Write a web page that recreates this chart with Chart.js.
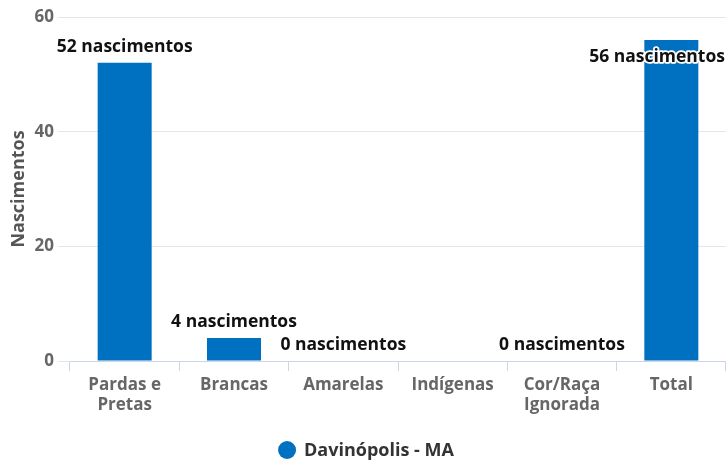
<!DOCTYPE html>
<html>
<head>
<meta charset="utf-8">
<script src="https://cdn.jsdelivr.net/npm/chart.js@4"></script>
<style>
html,body{margin:0;padding:0;background:#fff;}
#wrap{width:726px;height:461px;position:relative;}
</style>
</head>
<body>
<div id="wrap"><canvas id="c"></canvas></div>
<script>
const categories = [["Pardas e","Pretas"],"Brancas","Amarelas","Indígenas",["Cor/Raça","Ignorada"],"Total"];
const values = [52, 4, 0, 0, 0, 56];
const seriesName = "Davinópolis - MA";
const yTicks = [0, 20, 40, 60];
const labelShown = [true, true, true, false, true, true];
const labelInside = [false, false, false, false, false, true];

const FONT = "'Open Sans', sans-serif";
const BLUE = "#0070c0";

const dataLabels = {
  id: 'dataLabels',
  afterDatasetsDraw(chart) {
    const ctx = chart.ctx;
    const meta = chart.getDatasetMeta(0);
    ctx.save();
    ctx.font = "bold 17.5px " + FONT;
    ctx.textAlign = 'center';
    ctx.textBaseline = 'middle';
    meta.data.forEach((bar, i) => {
      if (!labelShown[i]) return;
      const txt = values[i] + " nascimentos";
      const tw = ctx.measureText(txt).width;
      let x = bar.x;
      x = Math.min(x, chart.width - tw / 2 - 1);
      x = Math.max(x, tw / 2 + 1);
      const y = labelInside[i] ? bar.y + 17 : bar.y - 16;
      const outline = (i === 0 || i === values.length - 1);
      if (outline) {
        ctx.lineJoin = 'round';
        ctx.lineWidth = 3.5;
        ctx.strokeStyle = '#ffffff';
        ctx.strokeText(txt, x, y);
      }
      ctx.fillStyle = '#111111';
      ctx.fillText(txt, x, y);
    });
    ctx.restore();
  }
};

const customLegend = {
  id: 'customLegend',
  afterDraw(chart) {
    const ctx = chart.ctx;
    ctx.save();
    ctx.font = "bold 18px " + FONT;
    const label = chart.data.datasets[0].label;
    const tw = ctx.measureText(label).width;
    const r = 9;
    const gap = 8;
    const total = r * 2 + gap + tw;
    const cx = chart.width / 2 + 3;
    const x0 = cx - total / 2;
    const y = 450;
    ctx.fillStyle = chart.data.datasets[0].backgroundColor;
    ctx.beginPath();
    ctx.arc(x0 + r, y, r, 0, Math.PI * 2);
    ctx.fill();
    ctx.fillStyle = '#333333';
    ctx.textAlign = 'left';
    ctx.textBaseline = 'middle';
    ctx.fillText(label, x0 + 2 * r + gap, y + 1);
    ctx.restore();
  }
};

new Chart(document.getElementById('c'), {
  type: 'bar',
  data: {
    labels: categories,
    datasets: [{
      label: seriesName,
      data: values,
      backgroundColor: BLUE,
      borderWidth: 0,
      inflateAmount: 0,
      barThickness: 54
    }]
  },
  options: {
    responsive: true,
    maintainAspectRatio: false,
    animation: false,
    layout: { padding: { top: 17, right: 0, bottom: 0, left: 0 } },
    plugins: {
      legend: { display: false },
      tooltip: { enabled: false }
    },
    scales: {
      x: {
        grid: { display: true, drawOnChartArea: false, drawTicks: true, tickLength: 10, color: '#ccd6eb', offset: true },
        border: { display: true, color: '#ccd6eb', width: 1 },
        ticks: {
          color: '#666666',
          font: { family: FONT, size: 17, weight: 'bold', lineHeight: 1.2 },
          padding: 4,
          maxRotation: 0,
          autoSkip: false
        },
        afterFit(scale) { scale.height = 100; }
      },
      y: {
        min: 0,
        max: 60,
        afterBuildTicks(scale) { scale.ticks = yTicks.map(v => ({ value: v })); },
        grid: { color: '#e6e6e6', tickLength: 12, drawTicks: true },
        border: { display: false },
        ticks: {
          color: '#666666',
          font: { family: FONT, size: 17, weight: 'bold' },
          padding: 4
        },
        title: {
          display: true,
          text: 'Nascimentos',
          color: '#555555',
          font: { family: FONT, size: 18, weight: 'bold' },
          padding: { top: 8, bottom: 0 }
        },
        afterFit(scale) { scale.width = 70; }
      }
    }
  },
  plugins: [dataLabels, customLegend]
});
</script>
</body>
</html>
